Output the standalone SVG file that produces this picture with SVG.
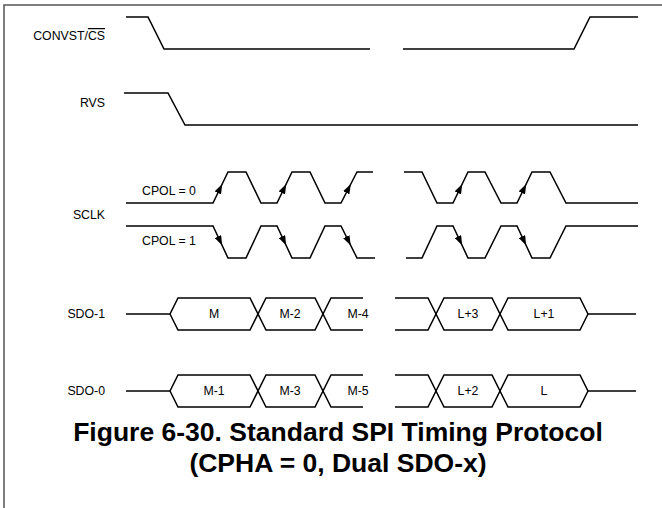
<svg xmlns="http://www.w3.org/2000/svg" width="662" height="508" viewBox="0 0 662 508">
<style>
.sig{fill:none;stroke:#000;stroke-width:1.5;stroke-linejoin:miter}
.lbl{font-family:"Liberation Sans",Arial,sans-serif;font-size:12.3px;fill:#000}
.r{text-anchor:end}
.c{text-anchor:middle}
.title{font-family:"Liberation Sans",Arial,sans-serif;font-size:26.5px;font-weight:bold;fill:#000;text-anchor:middle}
.arr{fill:none;stroke:none;marker-mid:url(#ah)}
</style>
<defs>
<marker id="ah" markerUnits="userSpaceOnUse" markerWidth="10" markerHeight="7" viewBox="0 0 10 7" refX="6" refY="3.5" orient="auto">
<path d="M0,0 L10,3.5 L0,7 z" fill="#000"/>
</marker>
</defs>
<rect width="662" height="508" fill="#fff"/>
<path d="M4,508 V5 H662" fill="none" stroke="#555" stroke-width="1.5"/>

<g id="convst">
<text class="lbl r" x="105" y="40">CONVST/<tspan style="text-decoration:overline">CS</tspan></text>
<path class="sig" d="M126,17 H148 L164,49 H370"/>
<path class="sig" d="M403,49 H574 L590,17 H638"/>
</g>

<g id="rvs">
<text class="lbl r" x="105" y="107">RVS</text>
<path class="sig" d="M124,93 H168 L185,125 H638"/>
</g>

<g id="sclk">
<text class="lbl r" x="105" y="219">SCLK</text>
<text class="lbl" x="142" y="195">CPOL = 0</text>
<text class="lbl" x="142" y="245">CPOL = 1</text>
<path class="sig" d="M126,203 H213 L228,172 H246 L261,203 H277 L292,172 H310 L325,203 H341 L357,172 H373"/>
<path class="sig" d="M404,172 H422 L437,203 H453 L468,172 H485 L501,203 H517 L532,172 H550 L566,203 H638"/>
<path class="sig" d="M126,226 H213 L228,258 H246 L261,226 H277 L292,258 H310 L325,226 H341 L357,258 H375"/>
<path class="sig" d="M406,258 H422 L437,226 H453 L468,258 H485 L501,226 H517 L532,258 H550 L566,226 H638"/>
</g>

<g id="connectors">
<path class="arr" d="M213,203 L220.5,187.5 L228,172"/>
<path class="arr" d="M277,203 L284.5,187.5 L292,172"/>
<path class="arr" d="M341,203 L349,187.5 L357,172"/>
<path class="arr" d="M453,203 L460.5,187.5 L468,172"/>
<path class="arr" d="M517,203 L524.5,187.5 L532,172"/>
<path class="arr" d="M213,226 L220.5,242 L228,258"/>
<path class="arr" d="M277,226 L284.5,242 L292,258"/>
<path class="arr" d="M341,226 L349,242 L357,258"/>
<path class="arr" d="M453,226 L460.5,242 L468,258"/>
<path class="arr" d="M517,226 L524.5,242 L532,258"/>
</g>

<g id="sdo1">
<text class="lbl r" x="105" y="318">SDO-1</text>
<path class="sig" d="M126,314 H170 L178,298 H250 L266,330 H315 L331,298 H363"/>
<path class="sig" d="M170,314 L178,330 H250 L266,298 H315 L331,330 H363"/>
<path class="sig" d="M395,298 H428 L444,330 H492 L508,298 H580 L588,314 H636"/>
<path class="sig" d="M395,330 H428 L444,298 H492 L508,330 H580 L588,314"/>
<text class="lbl c" x="214" y="318">M</text>
<text class="lbl c" x="290" y="318">M-2</text>
<text class="lbl c" x="358" y="318">M-4</text>
<text class="lbl c" x="468" y="318">L+3</text>
<text class="lbl c" x="544" y="318">L+1</text>
</g>

<g id="sdo0">
<text class="lbl r" x="105" y="395">SDO-0</text>
<path class="sig" d="M126,391 H170 L178,375 H250 L266,407 H315 L331,375 H363"/>
<path class="sig" d="M170,391 L178,407 H250 L266,375 H315 L331,407 H363"/>
<path class="sig" d="M395,375 H428 L444,407 H492 L508,375 H580 L588,391 H636"/>
<path class="sig" d="M395,407 H428 L444,375 H492 L508,407 H580 L588,391"/>
<text class="lbl c" x="214" y="395">M-1</text>
<text class="lbl c" x="290" y="395">M-3</text>
<text class="lbl c" x="358" y="395">M-5</text>
<text class="lbl c" x="468" y="395">L+2</text>
<text class="lbl c" x="544" y="395">L</text>
</g>

<g id="caption">
<text class="title" x="338" y="441">Figure 6-30. Standard SPI Timing Protocol</text>
<text class="title" x="338" y="472">(CPHA = 0, Dual SDO-x)</text>
</g>
</svg>
